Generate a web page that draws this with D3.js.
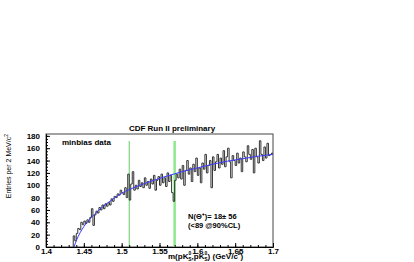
<!DOCTYPE html>
<html>
<head>
<meta charset="utf-8">
<script src="https://cdn.jsdelivr.net/npm/d3@7"></script>
<style>
body { margin: 0; background: #fff; }
svg { font-family: "Liberation Sans", Arial, Helvetica, sans-serif; }
</style>
</head>
<body>
<svg id="svg1" width="414" height="262"></svg>
<script>
// histogram: 2 MeV bins starting at 1.436
var binLow = 1.436;
var binWidth = 0.002;
var counts = [
    18, 10, 22, 30, 28, 40, 36, 42, 38, 44,
    40, 48, 62, 35, 52, 58, 55, 64, 60, 68,
    62, 70, 66, 72, 68, 78, 74, 82, 80, 86,
    84, 92, 88, 85, 96, 80, 118, 76, 102, 122,
    92, 100, 94, 108, 98, 104, 96, 112, 100, 106,
    95, 110, 102, 116, 92, 108, 114, 100, 118, 104,
    112, 98, 120, 106, 116, 88, 74, 108, 118, 112,
    126, 110, 132, 100, 124, 140, 118, 128, 106, 134,
    122, 144, 116, 128, 104, 136, 126, 150, 120, 132,
    140, 96, 146, 124, 138, 150, 128, 144, 134, 156,
    130, 146, 160, 138, 112, 148, 140, 132, 152, 136,
    144, 122, 154, 146, 138, 164, 150, 142, 158, 120,
    160, 146, 136, 172, 150, 140, 162, 144, 168, 148, 150, 152
];

// background fit (blue curve)
var fitMass = [1.437, 1.44, 1.45, 1.46, 1.47, 1.48, 1.49, 1.50, 1.52, 1.54, 1.56, 1.58, 1.60, 1.62, 1.64, 1.66, 1.68, 1.70];
var fitValues = [0, 10, 33, 48, 60, 70, 79, 87, 98, 107, 115, 122, 128, 134, 139, 143, 147, 150];

var xTicks = [1.4, 1.45, 1.5, 1.55, 1.6, 1.65, 1.7];
var yTicks = [0, 20, 40, 60, 80, 100, 120, 140, 160, 180];
var windowLines = [1.51, 1.57];

var plotLeft = 46, plotRight = 273, plotTop = 134, plotBottom = 247;

var scaleX = d3.scaleLinear().domain([1.4, 1.7]).range([plotLeft, plotRight]);
var scaleY = d3.scaleLinear().domain([0, 183]).range([plotBottom, plotTop]);

var svg1 = d3.select('#svg1');

// frame
svg1.append('rect')
    .attr('x', plotLeft).attr('y', plotTop)
    .attr('width', plotRight - plotLeft).attr('height', plotBottom - plotTop)
    .attr('fill', 'none')
    .attr('stroke', '#444')
    .attr('stroke-width', 1);

// mass window lines
svg1.selectAll('.win')
    .data(windowLines)
    .enter().append('line')
    .attr('class', 'win')
    .attr('x1', function(d){ return scaleX(d); })
    .attr('x2', function(d){ return scaleX(d); })
    .attr('y1', 141)
    .attr('y2', plotBottom)
    .attr('stroke', function(d, i){ return i === 0 ? '#66cc66' : '#8ee88e'; })
    .attr('stroke-width', function(d, i){ return i === 0 ? 1 : 2.5; });

// histogram outline
var pts = [[binLow, 0]];
counts.forEach(function(c, i){ pts.push([binLow + i * binWidth, c]); });
pts.push([binLow + counts.length * binWidth, counts[counts.length - 1]]);

var makeStep = d3.line()
    .x(function(d){ return scaleX(d[0]); })
    .y(function(d){ return scaleY(d[1]); })
    .curve(d3.curveStepAfter);

svg1.append('path')
    .datum(pts)
    .attr('d', makeStep)
    .attr('fill', 'none')
    .attr('stroke', '#333')
    .attr('stroke-width', 1);

// fit curve
var makeFit = d3.line()
    .x(function(d, i){ return scaleX(d); })
    .y(function(d, i){ return scaleY(fitValues[i]); })
    .curve(d3.curveMonotoneX);

svg1.append('path')
    .datum(fitMass)
    .attr('d', makeFit)
    .attr('fill', 'none')
    .attr('stroke', '#3a3aff')
    .attr('stroke-width', 1);

// axes (ticks pointing inward, root style)
var xMinor = d3.range(1.4, 1.7001, 0.01);
var yMinor = d3.range(0, 181, 5);

var gx = svg1.append('g').attr('transform', 'translate(0,' + plotBottom + ')');
gx.call(d3.axisBottom(scaleX).tickValues(xMinor).tickSize(-2).tickSizeOuter(0).tickFormat(''));
var gx2 = svg1.append('g').attr('transform', 'translate(0,' + plotBottom + ')');
gx2.call(d3.axisBottom(scaleX).tickValues(xTicks).tickSize(-4).tickSizeOuter(0)
    .tickFormat(function(d){ return d3.format('.3~f')(d); }));
gx2.selectAll('text').attr('y', 1).attr('dy', '0.71em');

var gy = svg1.append('g').attr('transform', 'translate(' + plotLeft + ',0)');
gy.call(d3.axisLeft(scaleY).tickValues(yMinor).tickSize(-2).tickSizeOuter(0).tickFormat(''));
var gy2 = svg1.append('g').attr('transform', 'translate(' + plotLeft + ',0)');
gy2.call(d3.axisLeft(scaleY).tickValues(yTicks).tickSize(-4).tickSizeOuter(0));
gy2.selectAll('text').attr('x', -6);

svg1.selectAll('.tick text')
    .attr('font-size', 8)
    .attr('font-weight', 'bold')
    .attr('font-family', '"Liberation Sans", Arial, sans-serif')
    .attr('fill', '#000');
svg1.selectAll('.domain').attr('stroke', '#000');
svg1.selectAll('.tick line').attr('stroke', '#000');

// texts
svg1.append('text')
    .text('CDF Run II preliminary')
    .attr('x', 172).attr('y', 131)
    .attr('text-anchor', 'middle')
    .attr('font-size', 8).attr('font-weight', 'bold');

svg1.append('text')
    .text('minbias data')
    .attr('x', 62).attr('y', 145)
    .attr('font-size', 8).attr('font-weight', 'bold');

svg1.append('text')
    .text('N(\u0398\u207A)= 18\u00B1 56')
    .attr('x', 188).attr('y', 219)
    .attr('font-size', 7.5).attr('font-weight', 'bold');

svg1.append('text')
    .text('(<89 @90%CL)')
    .attr('x', 188).attr('y', 228)
    .attr('font-size', 7.5).attr('font-weight', 'bold');

// y title
var yt = svg1.append('text')
    .attr('transform', 'translate(11,134)rotate(-90)')
    .attr('text-anchor', 'end')
    .attr('font-size', 7)
    .attr('font-family', '"Liberation Sans Narrow", "Liberation Sans", Arial, sans-serif');
yt.append('tspan').text('Entries per 2 MeV/c');
yt.append('tspan').text('2').attr('font-size', 5).attr('dy', -3);

// x title
var xt = svg1.append('text')
    .attr('x', 168).attr('y', 259)
    .attr('font-size', 8).attr('font-weight', 'bold');
xt.append('tspan').text('m(pK');
xt.append('tspan').text('0').attr('font-size', 5).attr('dy', -4);
xt.append('tspan').text('S').attr('font-size', 5).attr('dx', -3).attr('dy', 6);
xt.append('tspan').text(',p\u0304K').attr('dy', -2);
xt.append('tspan').text('0').attr('font-size', 5).attr('dy', -4);
xt.append('tspan').text('S').attr('font-size', 5).attr('dx', -3).attr('dy', 6);
xt.append('tspan').text(') (GeV/c').attr('dy', -2);
xt.append('tspan').text('2').attr('font-size', 5).attr('dy', -4);
xt.append('tspan').text(')').attr('dy', 4);
</script>
</body>
</html>
